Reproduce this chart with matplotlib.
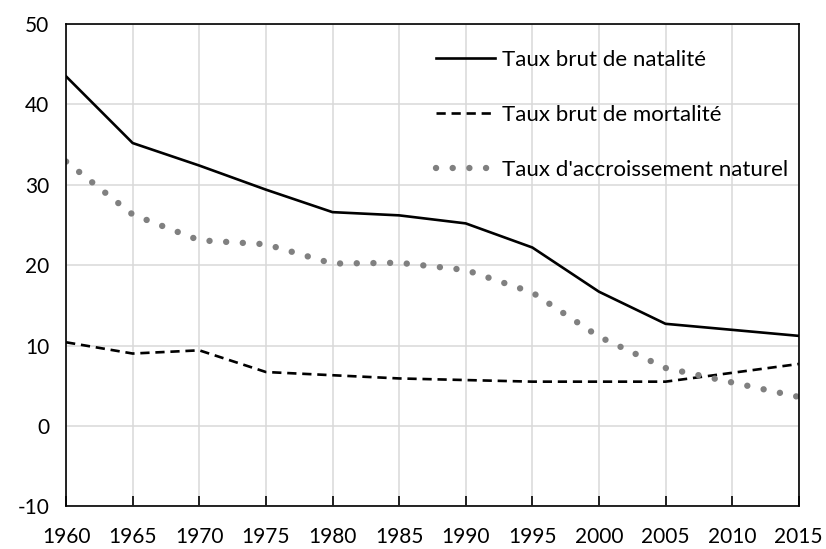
import numpy as np
import matplotlib
matplotlib.use("Agg")
import matplotlib.pyplot as plt

annees = [1960, 1965, 1970, 1975, 1980, 1985, 1990, 1995, 2000, 2005, 2010, 2015]
natalite = [43.5, 35.2, 32.4, 29.4, 26.6, 26.2, 25.2, 22.2, 16.7, 12.7, 11.95, 11.2]
mortalite = [10.4, 9.0, 9.4, 6.7, 6.3, 5.9, 5.7, 5.5, 5.5, 5.5, 6.6, 7.7]
accroissement = [32.9, 26.3, 23.1, 22.6, 20.2, 20.3, 19.4, 16.6, 11.1, 7.2, 5.4, 3.6]

plt.rcParams['font.family'] = ['Lato', 'DejaVu Sans']
plt.rcParams['axes.unicode_minus'] = False

fig, ax = plt.subplots(figsize=(8.26, 5.49), dpi=100)
fig.subplots_adjust(left=0.08, right=0.967, top=0.956, bottom=0.078)

ax.plot(annees, natalite, color='black', lw=1.9, label='Taux brut de natalité')
ax.plot(annees, mortalite, color='black', lw=1.9, linestyle=(0, (3.5, 2.2)),
        label='Taux brut de mortalité')
ax.plot(annees, accroissement, color='#808080', lw=4.6, linestyle=(0, (0.01, 2.6)),
        dash_capstyle='round', label="Taux d'accroissement naturel")

ax.set_xlim(1960, 2015)
ax.set_ylim(-10, 50)
ax.set_xticks(np.arange(1960, 2016, 5))
ax.set_yticks(np.arange(-10, 51, 10))
ax.grid(True, color='#d9d9d9', lw=1.1)
ax.set_axisbelow(True)
for s in ax.spines.values():
    s.set_linewidth(1.2)
    s.set_color('black')
ax.tick_params(axis='x', direction='in', length=7, width=1.2, labelsize=15, pad=15)
ax.tick_params(axis='y', length=0, labelsize=15, pad=12)

ax.legend(loc='upper right', frameon=False, fontsize=16, handlelength=2.65,
          handletextpad=0.3, labelspacing=1.58, borderaxespad=0.1,
          bbox_to_anchor=(1.0, 0.97))

plt.savefig('out.png', dpi=100)
